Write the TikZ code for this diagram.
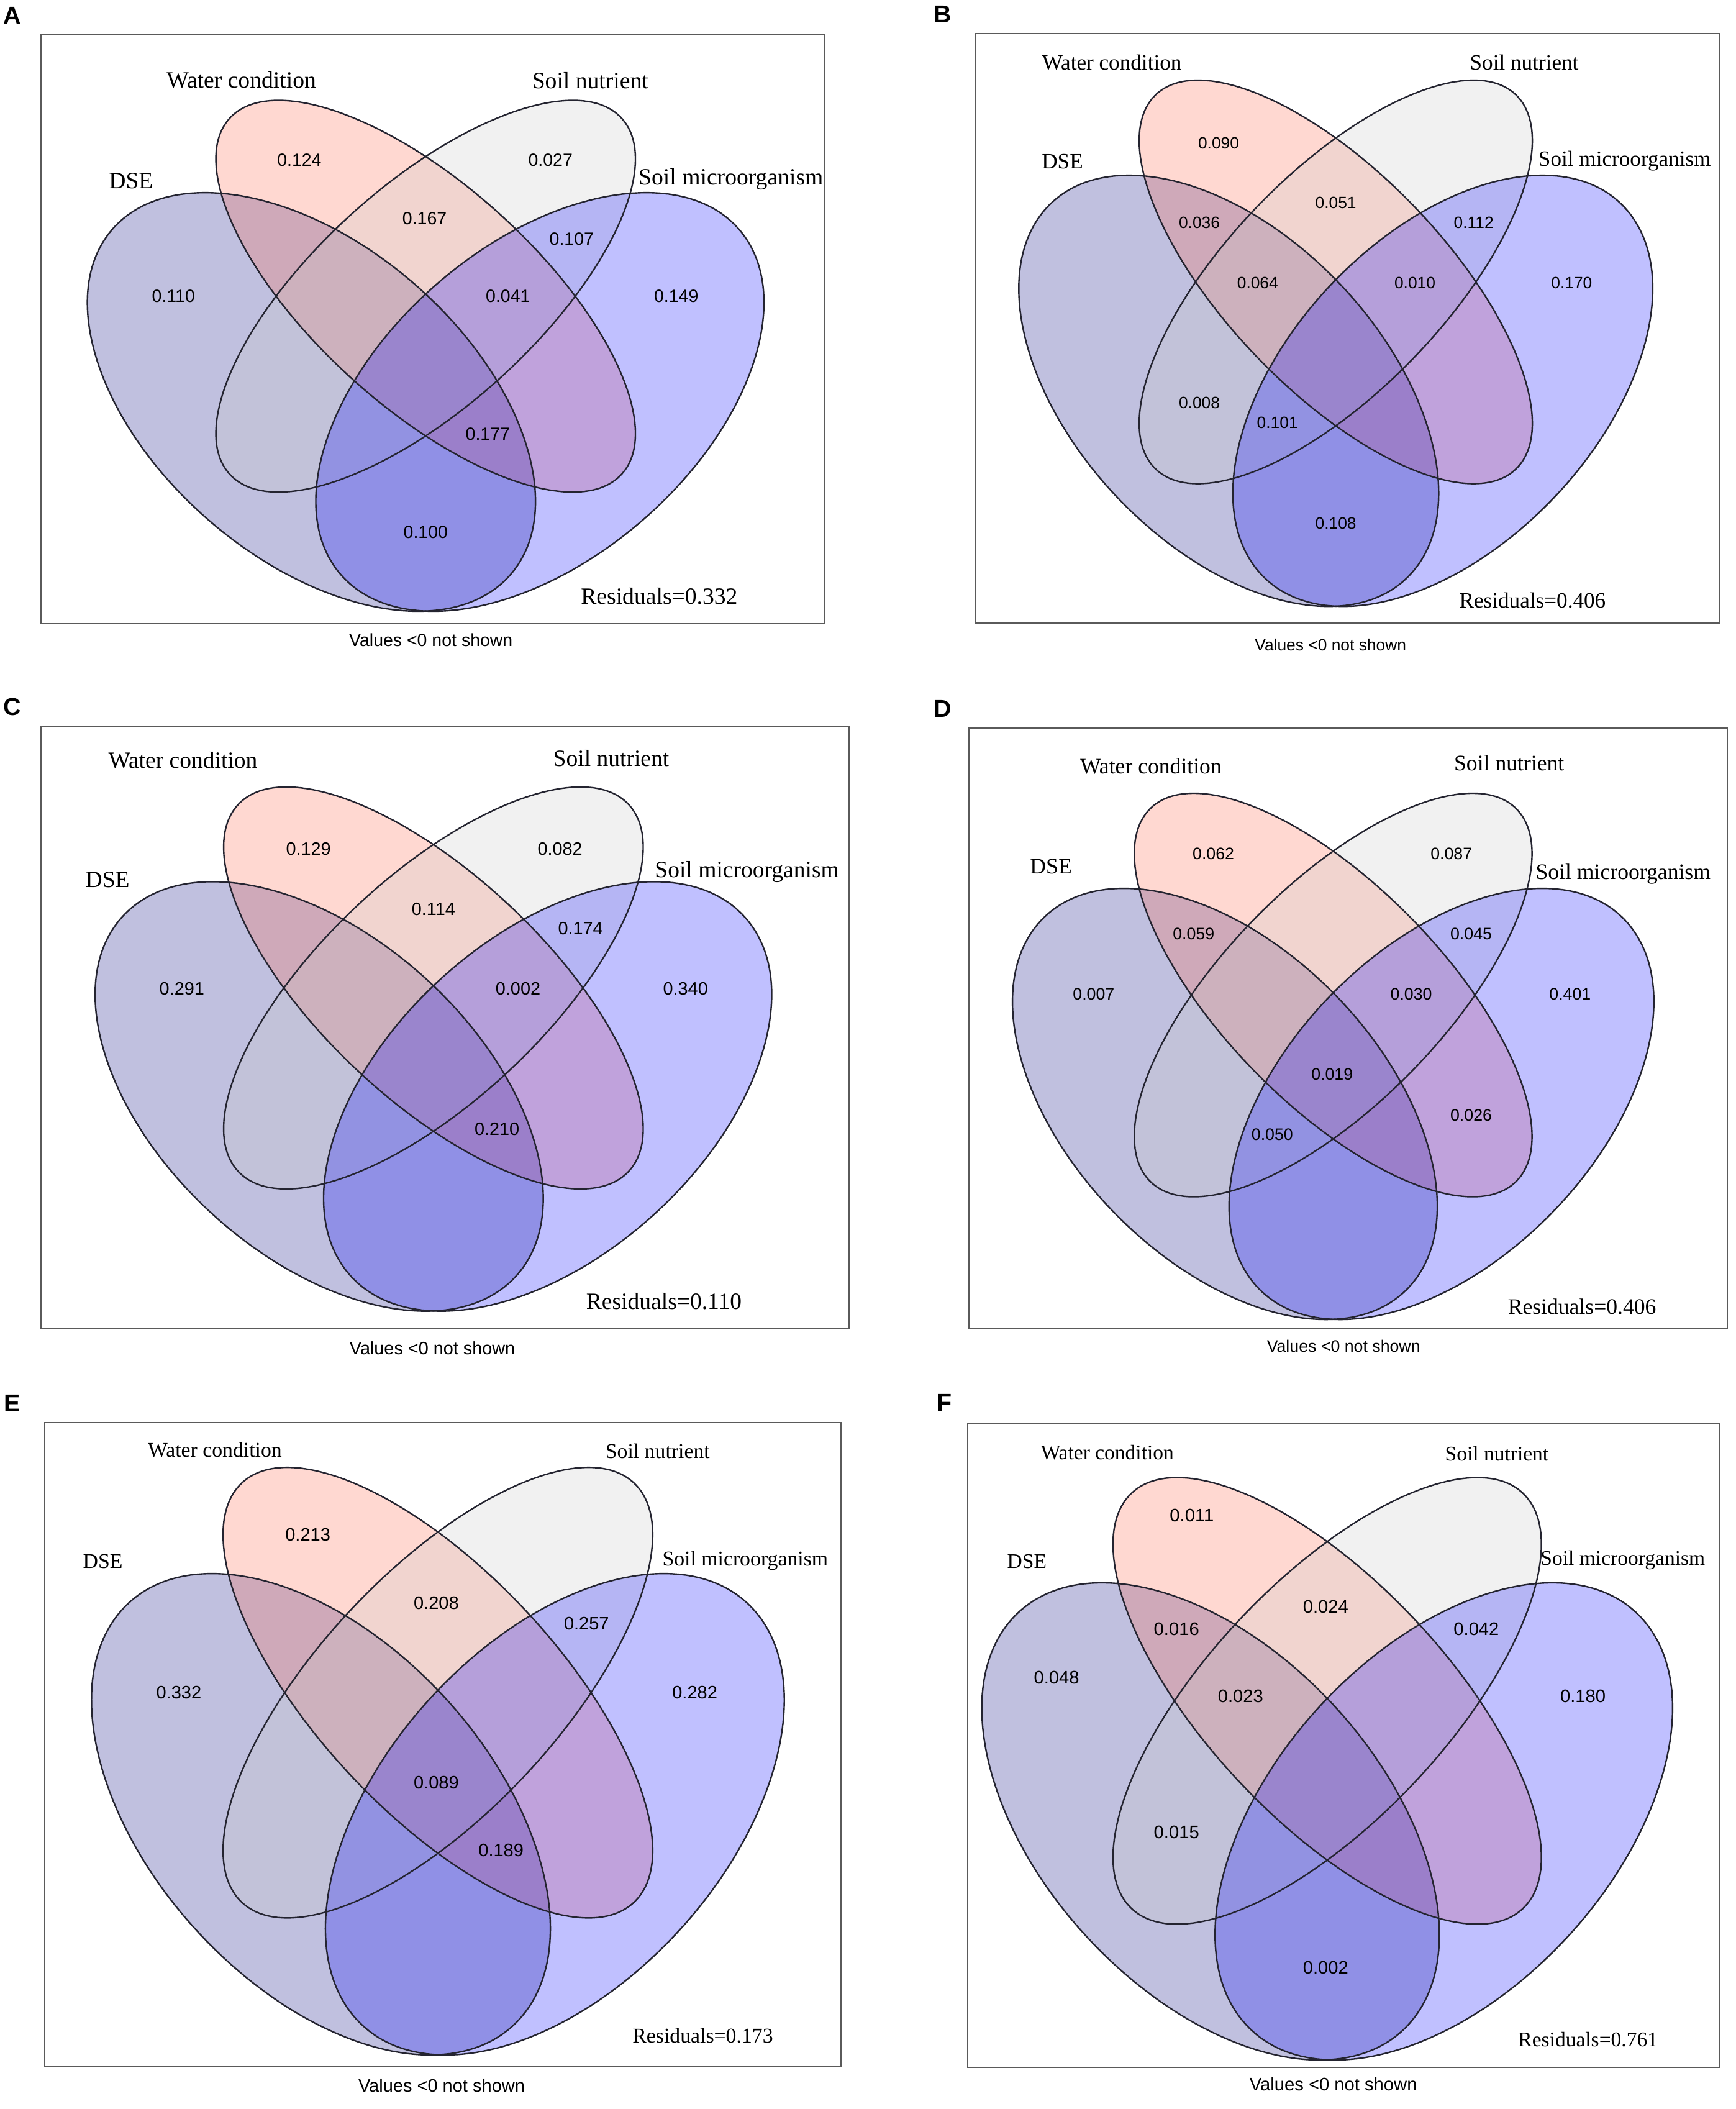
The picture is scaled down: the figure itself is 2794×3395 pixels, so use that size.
\documentclass[tikz,border=0pt]{standalone}
\usepackage{fontspec}
\setmainfont{Liberation Serif}
\newfontfamily\sansf{Liberation Sans}
\definecolor{cDSE}{RGB}{0,0,128}
\definecolor{cWat}{RGB}{255,99,71}
\definecolor{cNut}{RGB}{202,202,202}
\definecolor{cMic}{RGB}{0,0,255}
\definecolor{cLine}{RGB}{36,36,48}
\definecolor{cBox}{RGB}{90,90,90}
\tikzset{
  lab/.style={font=\fontsize{#1}{#1}\selectfont, inner sep=0pt, text depth=0pt},
  num/.style={font=\sansf\fontsize{#1}{#1}\selectfont, inner sep=0pt},
  plet/.style={font=\sansf\bfseries\fontsize{11.2pt}{11.2pt}\selectfont, inner sep=0pt},
  pbox/.style={draw=cBox, line width=0.02cm},
  vfill/.style={fill=#1, fill opacity=0.247},
  vline/.style={draw=cLine, line width=0.024cm},
}
\newcommand\vennshapes[4]{%
  \begin{scope}[shift={(#1,#2)}, xscale=#3, yscale=#4]
    \fill[vfill=cDSE, shift={(-1.838cm,-1.701cm)}, rotate=-40.9] (0,0) ellipse (4.24cm and 2.52cm);
    \fill[vfill=cWat, rotate=-42.2] (0,0) ellipse (4.26cm and 1.78cm);
    \fill[vfill=cNut, rotate=42.2] (0,0) ellipse (4.26cm and 1.78cm);
    \fill[vfill=cMic, shift={(1.838cm,-1.701cm)}, rotate=40.9] (0,0) ellipse (4.24cm and 2.52cm);
    \draw[vline, shift={(-1.838cm,-1.701cm)}, rotate=-40.9] (0,0) ellipse (4.24cm and 2.52cm);
    \draw[vline, rotate=-42.2] (0,0) ellipse (4.26cm and 1.78cm);
    \draw[vline, rotate=42.2] (0,0) ellipse (4.26cm and 1.78cm);
    \draw[vline, shift={(1.838cm,-1.701cm)}, rotate=40.9] (0,0) ellipse (4.24cm and 2.52cm);
  \end{scope}}
\begin{document}
\begin{tikzpicture}[x=0.01cm, y=0.01cm]
\useasboundingbox (0,0) rectangle (2794,3395);
\fill[white] (0,0) rectangle (2794,3395);

% ---------------- Panel A ----------------
\node[plet] (A-let) at (20,3370) {A};
\vennshapes{685.3}{2918.1}{1}{1}
\draw[pbox] (66,2391) rectangle (1328,3339);
\node[lab=10.7pt] (A-wat) at (388.7,3266.8) {Water condition};
\node[lab=10.7pt] (A-nut) at (950.3,3265.1) {Soil nutrient};
\node[lab=10.7pt] (A-dse) at (210.9,3104.4) {DSE};
\node[lab=10.7pt] (A-mic) at (1176.8,3110.4) {Soil microorganism};
\node[num=8.1pt] (A-n1) at (481.9,3136.9) {0.124};
\node[num=8.1pt] (A-n2) at (886.2,3136.9) {0.027};
\node[num=8.1pt] (A-n3) at (683.6,3042.9) {0.167};
\node[num=8.1pt] (A-n4) at (920.3,3010.4) {0.107};
\node[num=8.1pt] (A-n5) at (279.3,2918.1) {0.110};
\node[num=8.1pt] (A-n6) at (817.8,2918.1) {0.041};
\node[num=8.1pt] (A-n7) at (1088.7,2918.1) {0.149};
\node[num=8.1pt] (A-n8) at (785.3,2695.9) {0.177};
\node[num=8.1pt] (A-n9) at (685.3,2538.6) {0.100};
\node[lab=10.7pt] (A-res) at (1061.4,2436) {Residuals=0.332};
\node[num=8.1pt] (A-val) at (693.8,2365.1) {Values <0 not shown};

% ---------------- Panel B ----------------
\node[plet] (B-let) at (1518,3372) {B};
\vennshapes{2150.6}{2941.1}{0.937}{1.03}
\draw[pbox] (1570,2392) rectangle (2769,3341);
\node[lab=10pt] (B-wat) at (1790.1,3294.4) {Water condition};
\node[lab=10pt] (B-nut) at (2454,3294.4) {Soil nutrient};
\node[lab=10pt] (B-dse) at (1710.5,3135.1) {DSE};
\node[lab=10pt] (B-mic) at (2615.8,3139.3) {Soil microorganism};
\node[num=7.5pt] (B-n1) at (1962,3164.5) {0.090};
\node[num=7.5pt] (B-n2) at (2150.6,3068.1) {0.051};
\node[num=7.5pt] (B-n3) at (1931,3036.2) {0.036};
\node[num=7.5pt] (B-n4) at (2372.7,3036.2) {0.112};
\node[num=7.5pt] (B-n5) at (2024.8,2939.8) {0.064};
\node[num=7.5pt] (B-n6) at (2278,2939.8) {0.010};
\node[num=7.5pt] (B-n7) at (2530.3,2939.8) {0.170};
\node[num=7.5pt] (B-n8) at (1931,2747) {0.008};
\node[num=7.5pt] (B-n9) at (2056.7,2714.4) {0.101};
\node[num=7.5pt] (B-n10) at (2150.6,2552.6) {0.108};
\node[lab=10pt] (B-res) at (2467.4,2428.5) {Residuals=0.406};
\node[num=7.5pt] (B-val) at (2142.2,2357.3) {Values <0 not shown};

% ---------------- Panel C ----------------
\node[plet] (C-let) at (20,2257) {C};
\vennshapes{697.8}{1804.6}{1.0}{1.026}
\draw[pbox] (66,1257) rectangle (1367,2226);
\node[lab=10.67pt] (C-wat) at (294.5,2171.9) {Water condition};
\node[lab=10.67pt] (C-nut) at (984,2174.5) {Soil nutrient};
\node[lab=10.67pt] (C-dse) at (173.1,1978.5) {DSE};
\node[lab=10.67pt] (C-mic) at (1202.6,1995.8) {Soil microorganism};
\node[num=8.2pt] (C-n1) at (496.6,2028.8) {0.129};
\node[num=8.2pt] (C-n2) at (901.6,2028.8) {0.082};
\node[num=8.2pt] (C-n3) at (697.8,1931.7) {0.114};
\node[num=8.2pt] (C-n4) at (934.6,1900.4) {0.174};
\node[num=8.2pt] (C-n5) at (292.8,1803.3) {0.291};
\node[num=8.2pt] (C-n6) at (834,1803.3) {0.002};
\node[num=8.2pt] (C-n7) at (1103.7,1803.3) {0.340};
\node[num=8.2pt] (C-n8) at (800.2,1577.8) {0.210};
\node[lab=10.67pt] (C-res) at (1069,1300.3) {Residuals=0.110};
\node[num=8.2pt] (C-val) at (696.1,1224.8) {Values <0 not shown};

% ---------------- Panel D ----------------
\node[plet] (D-let) at (1518,2254) {D};
\vennshapes{2146.4}{1793.2}{0.948}{1.03}
\draw[pbox] (1560,1257) rectangle (2781,2223);
\node[lab=10.13pt] (D-wat) at (1853,2161.6) {Water condition};
\node[lab=10.13pt] (D-nut) at (2429.7,2166.6) {Soil nutrient};
\node[lab=10.13pt] (D-dse) at (1692.1,1999.8) {DSE};
\node[lab=10.13pt] (D-mic) at (2613.3,1992.3) {Soil microorganism};
\node[num=7.6pt] (D-n1) at (1953.6,2020.8) {0.062};
\node[num=7.6pt] (D-n2) at (2336.7,2020.8) {0.087};
\node[num=7.6pt] (D-n3) at (1921.7,1891.7) {0.059};
\node[num=7.6pt] (D-n4) at (2368.5,1891.7) {0.045};
\node[num=7.6pt] (D-n5) at (1760.8,1794.5) {0.007};
\node[num=7.6pt] (D-n6) at (2272.1,1794.5) {0.030};
\node[num=7.6pt] (D-n7) at (2527.8,1794.5) {0.401};
\node[num=7.6pt] (D-n8) at (2144.7,1665.4) {0.019};
\node[num=7.6pt] (D-n9) at (2368.5,1600) {0.026};
\node[num=7.6pt] (D-n10) at (2048.3,1568.2) {0.050};
\node[lab=10.13pt] (D-res) at (2547.1,1291.5) {Residuals=0.406};
\node[num=7.6pt] (D-val) at (2163.2,1227.8) {Values <0 not shown};

% ---------------- Panel E ----------------
\node[plet] (E-let) at (20,1136) {E};
\vennshapes{705}{670.2}{1.024}{1.15}
\draw[pbox] (72,68) rectangle (1354,1105);
\node[lab=9.6pt] (E-wat) at (346,1061) {Water condition};
\node[lab=9.6pt] (E-nut) at (1058.8,1058.8) {Soil nutrient};
\node[lab=9.6pt] (E-dse) at (165.6,882) {DSE};
\node[lab=9.6pt] (E-mic) at (1199.8,885.7) {Soil microorganism};
\node[num=8.25pt] (E-n1) at (495.6,924.4) {0.213};
\node[num=8.25pt] (E-n2) at (702.4,814.8) {0.208};
\node[num=8.25pt] (E-n3) at (944.3,781.2) {0.257};
\node[num=8.25pt] (E-n4) at (287.9,670.2) {0.332};
\node[num=8.25pt] (E-n5) at (1118.6,670.2) {0.282};
\node[num=8.25pt] (E-n6) at (702.4,525.6) {0.089};
\node[num=8.25pt] (E-n7) at (806.7,416.7) {0.189};
\node[lab=9.6pt] (E-res) at (1131.5,118.7) {Residuals=0.173};
\node[num=8.25pt] (E-val) at (711,38.3) {Values <0 not shown};

% ---------------- Panel F ----------------
\node[plet] (F-let) at (1521,1137) {F};
\vennshapes{2136.8}{657}{1.021}{1.14}
\draw[pbox] (1558,67) rectangle (2769,1103);
\node[lab=9.53pt] (F-wat) at (1782.8,1057.2) {Water condition};
\node[lab=9.53pt] (F-nut) at (2409.9,1054.7) {Soil nutrient};
\node[lab=9.53pt] (F-dse) at (1653.3,881.5) {DSE};
\node[lab=9.53pt] (F-mic) at (2612.8,887.2) {Soil microorganism};
\node[num=8.3pt] (F-n1) at (1918.9,955.7) {0.011};
\node[num=8.3pt] (F-n2) at (2134.3,808.8) {0.024};
\node[num=8.3pt] (F-n3) at (1894.2,772.5) {0.016};
\node[num=8.3pt] (F-n4) at (2376.9,772.5) {0.042};
\node[num=8.3pt] (F-n5) at (1701.1,694.2) {0.048};
\node[num=8.3pt] (F-n6) at (1997.3,664.4) {0.023};
\node[num=8.3pt] (F-n7) at (2548.5,664.4) {0.180};
\node[num=8.3pt] (F-n8) at (1894.2,445.8) {0.015};
\node[num=8.3pt] (F-n9) at (2134.3,227.2) {0.002};
\node[lab=9.53pt] (F-res) at (2556.7,112.5) {Residuals=0.761};
\node[num=8.3pt] (F-val) at (2146.7,39.9) {Values <0 not shown};
\end{tikzpicture}
\end{document}
